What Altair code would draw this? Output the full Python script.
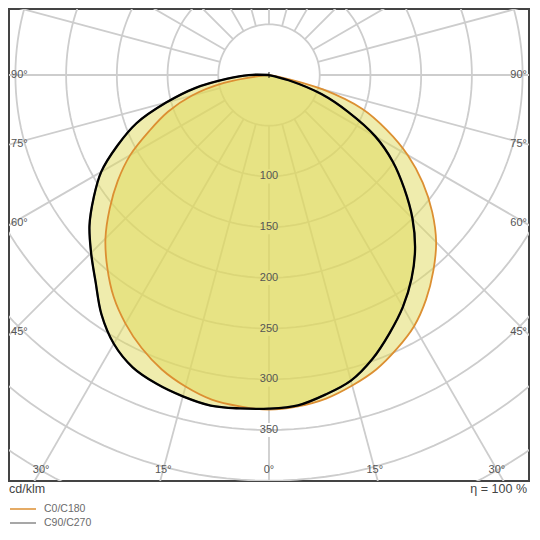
import altair as alt
import pandas as pd
import numpy as np

# ---- data (cd/klm), gamma 0..90 deg in 5 deg steps ----
gamma = [0, 5, 10, 15, 20, 25, 30, 35, 40, 45, 50, 55, 60, 65, 70, 75, 80, 85, 90]
c0   = [330, 328, 324, 317, 309, 298, 286, 270, 252, 233, 210, 185, 158, 128, 98, 55, 10, 0, 0]
c180 = [330, 328, 325, 318, 309, 297, 283, 267, 248, 228, 205, 182, 158, 130, 106, 79, 45, 5, 0]
c90  = [330, 327, 320, 312, 298, 281, 264, 245, 224, 200, 174, 149, 121, 86, 55, 20, 0, 0, 0]
c270 = [329, 330, 331, 328, 324, 318, 306, 288, 266, 248, 231, 211, 191, 165, 139, 105, 74, 41, 20]

planes = ["C0/C180", "C90/C270"]
plane_colors = ["#dc8f32", "#8a8a8a"]
ring_radii = [50, 100, 150, 200, 250, 300, 350, 400, 450, 500, 550]
ring_labels = [100, 150, 200, 250, 300, 350]
radial_angles = list(range(0, 360, 15))
side_angles = [45, 60, 75, 90]
bottom_angles = [0, 15, 30]

FONT = "Liberation Sans"
XDOM = [-256.3, 256.3]
YDOM = [-400.3, 65.1]
W, H = 520, 472

xs = alt.Scale(domain=XDOM, nice=False, zero=False)
ys = alt.Scale(domain=YDOM, nice=False, zero=False)


def polar(r, deg):
    t = np.radians(deg)
    return r * np.sin(t), -r * np.cos(t)


# curves (closed outline: origin -> left half 90..0 -> right half 0..90)
rows = []
for plane, left, right in [(planes[0], c180, c0), (planes[1], c270, c90)]:
    k = 0
    rows.append(dict(plane=plane, i=k, x=0.0, y=0.0))
    for g, v in zip(gamma[::-1], left[::-1]):
        k += 1
        x, y = polar(v, g)
        rows.append(dict(plane=plane, i=k, x=-x, y=y))
    for g, v in zip(gamma[1:], right[1:]):
        k += 1
        x, y = polar(v, g)
        rows.append(dict(plane=plane, i=k, x=x, y=y))
curves = pd.DataFrame(rows)

# grid rings
ring_rows = []
for r in ring_radii:
    for j, a in enumerate(range(0, 361, 2)):
        x, y = polar(r, a)
        ring_rows.append(dict(r=r, j=j, x=x, y=y))
rings = pd.DataFrame(ring_rows)

# radial lines (the 0 deg ray is broken where the intensity labels sit)
rad_rows = []
for a in radial_angles:
    if a == 0:
        start = 50
        for v in ring_labels:
            x1, y1 = polar(start, a)
            x2, y2 = polar(v - 7, a)
            rad_rows.append(dict(x=x1, y=y1, x2=x2, y2=y2))
            start = v + 7
        x1, y1 = polar(start, a)
        x2, y2 = polar(650, a)
        rad_rows.append(dict(x=x1, y=y1, x2=x2, y2=y2))
    else:
        x1, y1 = polar(50, a)
        x2, y2 = polar(650, a)
        rad_rows.append(dict(x=x1, y=y1, x2=x2, y2=y2))
radials = pd.DataFrame(rad_rows)

# labels
ring_lab = pd.DataFrame(dict(x=[0.0] * len(ring_labels), y=[-float(v) for v in ring_labels],
                             t=[str(v) for v in ring_labels]))
SIDE = 253
BOT = 389
left_rows, right_rows, bot_rows = [], [], []
for a in side_angles:
    t = np.radians(a)
    yy = -SIDE * np.cos(t) / np.sin(t)
    left_rows.append(dict(x=-254.3, y=yy, t=f"{a}°"))
    right_rows.append(dict(x=254.3, y=yy, t=f"{a}°"))
for a in bottom_angles:
    xx = BOT * np.tan(np.radians(a))
    bot_rows.append(dict(x=-xx, y=-BOT, t=f"{a}°"))
    if a != 0:
        bot_rows.append(dict(x=xx, y=-BOT, t=f"{a}°"))

X = alt.X("x:Q", scale=xs, axis=None)
Y = alt.Y("y:Q", scale=ys, axis=None)

GRID = "#cdcdcd"
ring_layer = alt.Chart(rings).mark_line(color=GRID, strokeWidth=1.8, clip=True).encode(
    x=X, y=Y, detail="r:N", order="j:Q")

radial_layer = alt.Chart(radials).mark_rule(color=GRID, strokeWidth=1.8, clip=True).encode(
    x=X, y=Y, x2="x2:Q", y2="y2:Q")

fill_layer = alt.Chart(curves).mark_line(
    fill="#e0d95c", fillOpacity=0.5, strokeOpacity=0, interpolate="catmull-rom").encode(
    x=X, y=Y, detail="plane:N", order="i:Q")

line_layer = alt.Chart(curves).mark_line(strokeWidth=1.8, interpolate="catmull-rom").encode(
    x=X, y=Y, order="i:Q",
    color=alt.Color("plane:N", scale=alt.Scale(domain=planes, range=plane_colors),
                    legend=alt.Legend(orient="none", legendX=0, legendY=494, title=None,
                                      direction="vertical", symbolType="stroke", symbolSize=676,
                                      symbolStrokeWidth=1.4, clipHeight=12, rowPadding=2,
                                      labelOffset=7, labelFontSize=10.5, labelFont=FONT,
                                      labelColor="#6b6b6b", padding=0)))

black_layer = alt.Chart(curves).transform_filter(alt.datum.plane == planes[1]).mark_line(
    color="#000000", strokeWidth=2.3, interpolate="catmull-rom").encode(
    x=X, y=Y, order="i:Q")

origin_mark = alt.Chart(pd.DataFrame(dict(x=[0.0], y=[0.0]))).mark_point(
    shape="M0,-1L0,1", size=36, color="#000000", strokeWidth=1.2, filled=False).encode(x=X, y=Y)


def label_layer(df, align):
    return alt.Chart(df).mark_text(font=FONT, fontSize=11, color="#555555",
                                   baseline="middle", align=align).encode(
        x=X, y=Y, text="t:N")


ring_text = label_layer(ring_lab, "center")
left_text = label_layer(pd.DataFrame(left_rows), "left")
right_text = label_layer(pd.DataFrame(right_rows), "right")
bot_text = label_layer(pd.DataFrame(bot_rows), "center")

foot = pd.DataFrame(dict(t=["cd/klm"]))
unit_text = alt.Chart(foot).mark_text(font=FONT, fontSize=12.5, color="#444444",
                                      align="left", baseline="middle").encode(
    x=alt.value(0), y=alt.value(480), text="t:N")
eta = pd.DataFrame(dict(t=["η = 100 %"]))
eta_text = alt.Chart(eta).mark_text(font=FONT, fontSize=12.5, color="#444444",
                                    align="right", baseline="middle").encode(
    x=alt.value(518), y=alt.value(480), text="t:N")

chart = alt.layer(ring_layer, radial_layer, fill_layer, line_layer, black_layer, origin_mark,
                  ring_text, left_text, right_text, bot_text, unit_text, eta_text).properties(
    width=W, height=H, padding={"left": 1, "top": 1, "right": 1, "bottom": 0}
).configure_view(stroke="#444444", strokeWidth=2)

chart.save("out.html", embed_options={"renderer": "svg", "actions": False})
